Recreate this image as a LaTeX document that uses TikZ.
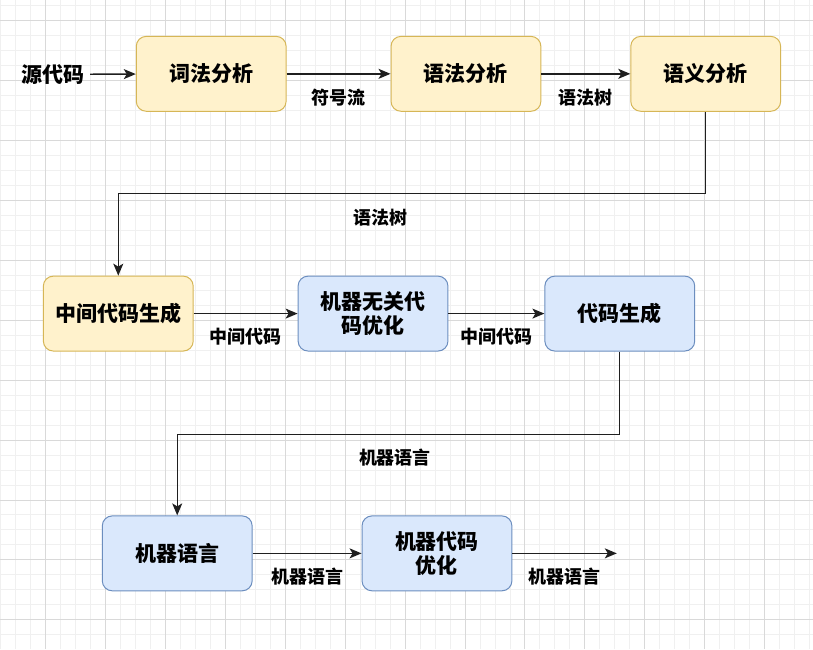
\documentclass[tikz,border=0pt]{standalone}
\usepackage{fontspec}
\setmainfont{Noto Sans CJK SC}
\usetikzlibrary{positioning,arrows.meta}

\begin{document}
\begin{tikzpicture}[x=1pt,y=-1pt,>={Stealth[length=12pt,width=10pt,inset=3pt]},
    box/.style={draw,rounded corners=10pt,line width=1pt,minimum width=150pt,minimum height=75pt,
      align=center,font=\fontsize{21}{24}\selectfont\bfseries},
    ybox/.style={box,fill=yfill,draw=yline},
    bbox/.style={box,fill=bfill,draw=bline},
    lab/.style={font=\fontsize{18}{20}\selectfont\bfseries,yshift=-23.5pt},
    flow/.style={->,line width=1.4pt,draw=black!88}]
  \definecolor{yfill}{HTML}{FFF2CC}\definecolor{yline}{HTML}{D6B656}
  \definecolor{bfill}{HTML}{DAE8FC}\definecolor{bline}{HTML}{6C8EBF}
  % background grid
  \fill[white] (0,0) rectangle (813,649);
  \foreach \x in {0,15,...,810} \draw[black!6,line width=0.8pt] (\x,0) -- (\x,649);
  \foreach \y in {5,20,...,645} \draw[black!6,line width=0.8pt] (0,\y) -- (813,\y);
  \foreach \x in {45,105,...,765} \draw[black!15,line width=0.8pt] (\x,0) -- (\x,649);
  \foreach \y in {20,80,...,620} \draw[black!15,line width=0.8pt] (0,\y) -- (813,\y);
  \useasboundingbox (0,0) rectangle (813,649);

  % boxes
  \node[font=\fontsize{21}{24}\selectfont\bfseries,inner sep=5pt] (src) at (53,74) {源代码};
  \node[ybox] (lex) at (211,73.5) {词法分析};
  \node[ybox] (syn) at (466,73.5) {语法分析};
  \node[ybox] (sem) at (706,73.5) {语义分析};
  \node[ybox] (ir) at (118,313.5) {中间代码生成};
  \node[bbox] (opt) at (373,313.5) {机器无关代\\码优化};
  \node[bbox] (gen) at (620,313.5) {代码生成};
  \node[bbox] (ml) at (177,553.5) {机器语言};
  \node[bbox] (mopt) at (437,553.5) {机器代码\\优化};
  \coordinate (out) at (617,553.5);

  % connectors
  \draw[flow] (src) -- (lex);
  \draw[flow] (lex) -- node[lab] {符号流} (syn);
  \draw[flow] (syn) -- node[lab] {语法树} (sem);
  \draw[flow] (sem.south) -- ++(0,82) -| node[lab,pos=0.277] {语法树} (ir.north);
  \draw[flow] (ir) -- node[lab] {中间代码} (opt);
  \draw[flow] (opt) -- node[lab] {中间代码} (gen);
  \draw[flow] (gen.south) -- ++(0,83) -| node[lab,pos=0.254] {机器语言} (ml.north);
  \draw[flow] (ml) -- node[lab] {机器语言} (mopt);
  \draw[flow] (mopt) -- node[lab] {机器语言} (out);
\end{tikzpicture}
\end{document}
